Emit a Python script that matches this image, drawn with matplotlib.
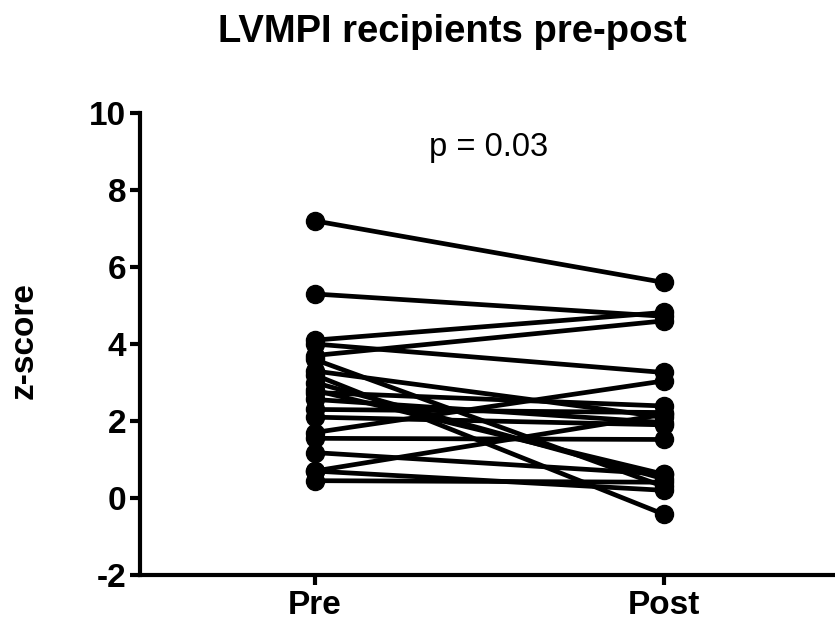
import matplotlib
matplotlib.use("Agg")
import matplotlib.pyplot as plt

groups = ["Pre", "Post"]
pre = [7.2, 5.3, 4.1, 4.0, 3.7, 1.7, 0.7, 1.55, 1.18, 0.45, 0.7, 3.6, 3.2, 3.0, 2.8, 2.74, 2.56, 2.3, 2.1, 3.3]
post = [5.6, 4.72, 4.82, 3.26, 4.6, 3.04, 2.17, 1.52, 0.62, 0.41, 0.2, 0.3, -0.42, 0.5, 0.62, 2.39, 1.96, 2.22, 1.9, 2.1]
y_ticks = [-2, 0, 2, 4, 6, 8, 10]
title = "LVMPI recipients pre-post"
ylabel = "z-score"
ptext = "p = 0.03"

plt.rcParams['font.family'] = ['Liberation Sans', 'DejaVu Sans']
plt.rcParams['axes.unicode_minus'] = False
fig = plt.figure(figsize=(8.35, 6.21), dpi=100)
W, H = 835, 621
ax = fig.add_axes([140 / W, (H - 575) / H, 698 / W, (575 - 113) / H])

for a, b in zip(pre, post):
    ax.plot([0, 1], [a, b], color='black', lw=3.4, marker='o', ms=13,
            solid_capstyle='round', clip_on=False, zorder=3)

ax.set_xlim(-0.5, 1.5)
ax.set_ylim(-2, 10)
ax.set_xticks([0, 1])
ax.set_xticklabels(groups)
ax.set_yticks(y_ticks)
for s in ['top', 'right']:
    ax.spines[s].set_visible(False)
for s in ['left', 'bottom']:
    ax.spines[s].set_linewidth(3)
ax.tick_params(width=3, length=7, labelsize=24, pad=3)
ax.tick_params(axis='x', pad=3.5)
for lab in ax.get_xticklabels() + ax.get_yticklabels():
    lab.set_fontweight('bold')

ax.text(0.5, 9.1, ptext, ha='center', va='center', fontsize=23.5, transform=ax.transData)
fig.text(452 / W, 1 - 32 / H, title, ha='center', va='center', fontsize=27.5, fontweight='bold')
fig.text(24 / W, 1 - 341 / H, ylabel, ha='center', va='center', rotation=90,
         fontsize=24, fontweight='bold')

fig.savefig("out.png", dpi=100)
